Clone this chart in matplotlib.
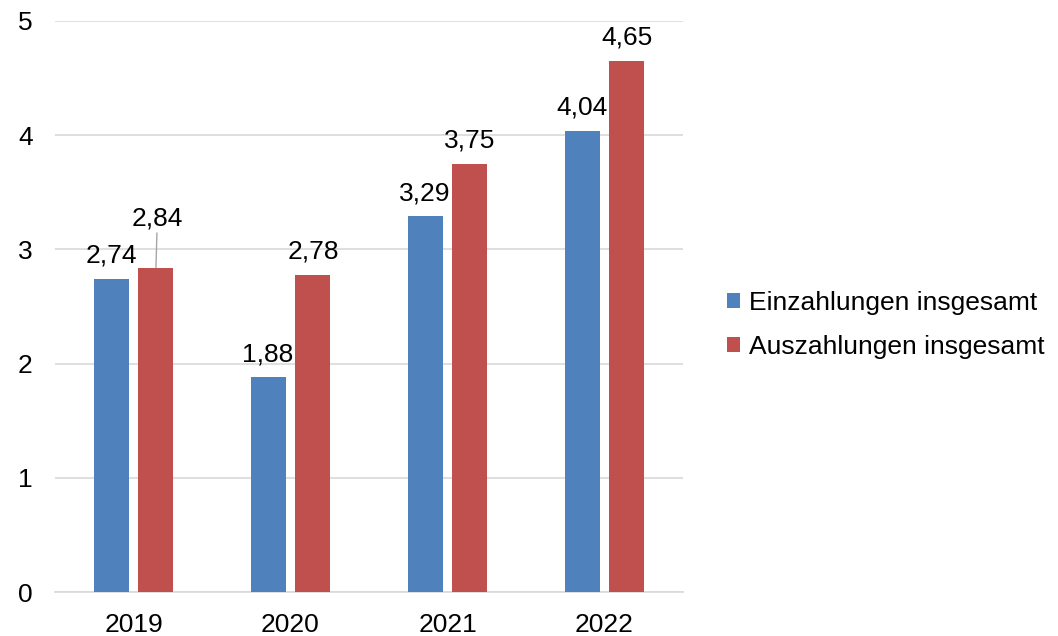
import matplotlib.pyplot as plt
import numpy as np

plt.rcParams['font.family'] = ['Liberation Sans', 'DejaVu Sans']

years = ['2019', '2020', '2021', '2022']
einzahlungen = [2.74, 1.88, 3.29, 4.04]
auszahlungen = [2.84, 2.78, 3.75, 4.65]

blue = '#4F81BD'
red = '#C0504D'
fs = 19

fig = plt.figure(figsize=(10.58, 6.36), dpi=100)
ax = fig.add_axes([55 / 1058, 1 - 592 / 636, 628 / 1058, 571 / 636])

x = np.arange(len(years))
w = 0.223
off = 0.143
b1 = ax.bar(x - off, einzahlungen, w, color=blue, label='Einzahlungen insgesamt', zorder=3)
b2 = ax.bar(x + off, auszahlungen, w, color=red, label='Auszahlungen insgesamt', zorder=3)

def fmt(v):
    return f'{v:.2f}'.replace('.', ',')

for xi, v in zip(x - off, einzahlungen):
    ax.annotate(fmt(v), (xi, v), xytext=(0, 8), textcoords='offset points',
                ha='center', va='bottom', fontsize=fs)
for i, (xi, v) in enumerate(zip(x + off, auszahlungen)):
    if i == 0:
        ax.annotate(fmt(v), (xi, v), xytext=(1, 27), textcoords='offset points',
                    ha='center', va='bottom', fontsize=fs,
                    arrowprops=dict(arrowstyle='-', color='#a6a6a6', lw=1,
                                    shrinkA=0, shrinkB=0))
    else:
        ax.annotate(fmt(v), (xi, v), xytext=(0, 8), textcoords='offset points',
                    ha='center', va='bottom', fontsize=fs)

ax.set_xlim(-0.5, 3.5)
ax.set_ylim(0, 5)
ax.set_yticks(range(6))
ax.set_xticks(x)
ax.set_xticklabels(years)
ax.tick_params(axis='both', length=0, labelsize=fs)
ax.tick_params(axis='y', pad=16)
ax.tick_params(axis='x', pad=15)
ax.yaxis.grid(True, color='#d9d9d9', lw=1.2, zorder=0)
for s in ['top', 'right', 'left']:
    ax.spines[s].set_visible(False)
ax.spines['bottom'].set_color('#d9d9d9')
ax.spines['bottom'].set_linewidth(1.2)

fig.legend(handles=[b1, b2], loc='center left', bbox_to_anchor=(703 / 1058, 1 - 325 / 636),
           frameon=False, fontsize=fs, handlelength=0.5, handleheight=0.5,
           handletextpad=0.34, labelspacing=0.75)

fig.savefig('out.png', dpi=100)
